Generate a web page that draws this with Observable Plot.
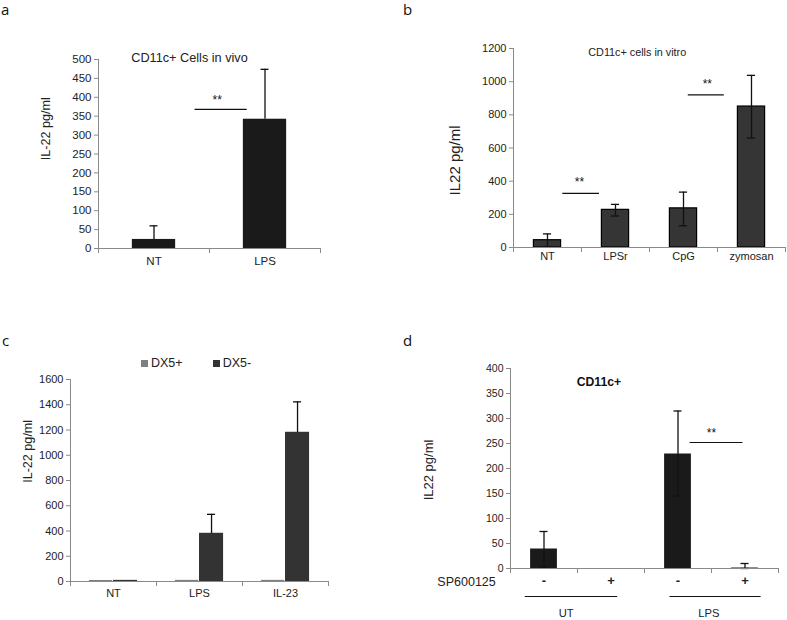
<!DOCTYPE html>
<html><head><meta charset="utf-8">
<script src="https://cdn.jsdelivr.net/npm/d3@7"></script>
<script src="https://cdn.jsdelivr.net/npm/@observablehq/plot@0.6"></script>
<style>
body{margin:0;background:#fff;}
#fig{position:relative;width:787px;height:620px;background:#fff;font-family:"Liberation Sans",Arial,sans-serif;overflow:hidden;}
.panel{position:absolute;}
.letter{position:absolute;font-family:"Open Sans","DejaVu Sans",sans-serif;font-size:15px;color:#111;line-height:1;}
.legend{position:absolute;font-size:12.5px;color:#222;line-height:1;display:flex;align-items:center;}
.legend i{display:inline-block;width:7px;height:7px;margin-right:3px;}
</style></head><body><div id="fig"></div>
<script>
// ---------- Panel a ----------
const aCategories = ["NT", "LPS"];
const aMean = [24, 342];
const aErrHigh = [60, 474];
const aYTicks = [0, 50, 100, 150, 200, 250, 300, 350, 400, 450, 500];
const aTitle = "CD11c+ Cells in vivo";
const aYLabel = "IL-22 pg/ml";
const aSigX1 = [0.87], aSigX2 = [1.34], aSigY = [368], aStarX = [1.07], aStarY = [393];

// ---------- Panel b ----------
const bCategories = ["NT", "LPSr", "CpG", "zymosan"];
const bMean = [44, 227, 236, 850];
const bErrLow = [4, 190, 131, 660];
const bErrHigh = [82, 260, 334, 1038];
const bYTicks = [0, 200, 400, 600, 800, 1000, 1200];
const bTitle = "CD11c+ cells in vitro";
const bYLabel = "IL22 pg/ml";
const bSigX1 = [0.725, 2.57], bSigX2 = [1.265, 3.10], bSigY = [326, 920], bStarX = [0.97, 2.85], bStarY = [395, 982];

// ---------- Panel c ----------
const cCategories = ["NT", "LPS", "IL-23"];
const cSeries = ["DX5+", "DX5-"];
const cPlus = [4, 5, 5];
const cMinus = [5, 378, 1178];
const cMinusErrHigh = [5, 532, 1423];
const cYTicks = [0, 200, 400, 600, 800, 1000, 1200, 1400, 1600];
const cYLabel = "IL-22 pg/ml";

// ---------- Panel d ----------
const dTreatment = ["-", "+", "-", "+"];
const dGroups = ["UT", "LPS"];
const dMean = [39, 0, 229, 1];
const dErrLow = [3, 0, 145, 0];
const dErrHigh = [74, 0, 315, 10];
const dYTicks = [0, 50, 100, 150, 200, 250, 300, 350, 400];
const dTitle = "CD11c+";
const dYLabel = "IL22 pg/ml";
const dRowLabel = "SP600125";
const dGroupX1 = [0.22, 2.38], dGroupX2 = [1.6, 3.74], dGroupLabelX = [0.83, 2.96];
const dSigX1 = [2.68], dSigX2 = [3.47], dSigY = [252], dStarX = [3.0], dStarY = [270];

// ---------- helpers ----------
const AXIS = "#8a8a8a", INK = "#222";
const FONT = "'Liberation Sans', Arial, sans-serif";

function catAxes(n, yTicks, yMax, labels, o) {
  const bounds = d3.range(n + 1), centers = d3.range(n).map(i => i + 0.5);
  return [
    Plot.ruleX([0], {y1: 0, y2: yMax, stroke: AXIS}),
    Plot.ruleY([0], {x1: 0, x2: n, stroke: AXIS}),
    Plot.axisY({ticks: yTicks, tickSize: 4, tickFormat: () => "", stroke: AXIS, label: null}),
    Plot.axisY({ticks: yTicks, tickSize: 0, tickPadding: 7, tickFormat: d => String(d), fill: INK, stroke: "none", fontSize: o.yFont, label: null}),
    Plot.axisX({ticks: bounds, tickSize: 5, tickFormat: () => "", stroke: AXIS, label: null}),
    Plot.axisX({ticks: centers, tickSize: 0, tickPadding: o.xPad, tickFormat: d => labels[Math.floor(d)], fill: INK, stroke: "none", fontSize: o.xFont, fontWeight: o.xWeight || "normal", label: null})
  ];
}
function errorBars(rows, capHalf, both) {
  const r = rows.filter(d => d.hi > d.lo);
  const m = [
    Plot.ruleX(r, {x: "x", y1: "lo", y2: "hi", stroke: "#111", strokeWidth: 1.3}),
    Plot.ruleY(r, {y: "hi", x1: d => d.x - capHalf, x2: d => d.x + capHalf, stroke: "#111", strokeWidth: 1.3})
  ];
  if (both) m.push(Plot.ruleY(r, {y: "lo", x1: d => d.x - capHalf, x2: d => d.x + capHalf, stroke: "#111", strokeWidth: 1.3}));
  return m;
}
function sigMarks(x1, x2, y, sx, sy) {
  const rows = x1.map((v, i) => ({x1: v, x2: x2[i], y: y[i], sx: sx[i], sy: sy[i]}));
  return [
    Plot.ruleY(rows, {y: "y", x1: "x1", x2: "x2", stroke: "#111", strokeWidth: 1.2}),
    Plot.text(rows, {x: "sx", y: "sy", text: () => "**", fontSize: 12, fill: "#111"})
  ];
}
function yLabel(text, y, dx, size) {
  return Plot.text([{t: text, y}], {y: "y", text: "t", frameAnchor: "left", textAnchor: "middle", dx, rotate: -90, fontSize: size, fill: INK});
}
function place(svg, left, top) {
  svg.classList.add("panel");
  svg.style.left = left + "px";
  svg.style.top = top + "px";
  document.getElementById("fig").appendChild(svg);
}
const baseStyle = {fontFamily: FONT, fontSize: "11px", background: "transparent", color: INK, overflow: "visible"};

// ---------- Panel a ----------
{
  const hw = 0.195;
  const rows = aCategories.map((c, i) => ({x: i + 0.5, x1: i + 0.5 - hw, x2: i + 0.5 + hw, v: aMean[i], lo: aMean[i], hi: aErrHigh[i]}));
  const p = Plot.plot({
    width: 400, height: 290, marginLeft: 98, marginRight: 80, marginTop: 59, marginBottom: 42,
    x: {domain: [0, 2]}, y: {domain: [0, 500]}, style: baseStyle,
    marks: [
      Plot.rectY(rows, {x1: "x1", x2: "x2", y: "v", fill: "#1a1a1a"}),
      ...errorBars(rows, 0.036, false),
      ...catAxes(2, aYTicks, 500, aCategories, {yFont: 11.5, xFont: 11.5, xPad: 8}),
      ...sigMarks(aSigX1, aSigX2, aSigY, aStarX, aStarY),
      Plot.text([aTitle], {x: 0.82, y: 505, text: d => d, fontSize: 12.7, fill: INK}),
      yLabel(aYLabel, 317, -53, 12.6)
    ]
  });
  place(p, 0, 0);
}

// ---------- Panel b ----------
{
  const hw = 0.2;
  const rows = bCategories.map((c, i) => ({x: i + 0.5, x1: i + 0.5 - hw, x2: i + 0.5 + hw, v: bMean[i], lo: bErrLow[i], hi: bErrHigh[i]}));
  const p = Plot.plot({
    width: 387, height: 290, marginLeft: 113, marginRight: 2, marginTop: 48, marginBottom: 43,
    x: {domain: [0, 4]}, y: {domain: [0, 1200]}, style: baseStyle,
    marks: [
      Plot.rectY(rows, {x1: "x1", x2: "x2", y: "v", fill: "#353535", stroke: "#000", strokeWidth: 1.2}),
      ...errorBars(rows, 0.06, true),
      ...catAxes(4, bYTicks, 1200, bCategories, {yFont: 11, xFont: 11, xPad: 5}),
      ...sigMarks(bSigX1, bSigX2, bSigY, bStarX, bStarY),
      Plot.text([bTitle], {x: 1.82, y: 1176, text: d => d, fontSize: 10.8, fill: INK}),
      yLabel(bYLabel, 525, -58, 15)
    ]
  });
  place(p, 400, 0);
}

// ---------- Panel c ----------
{
  const rows = [];
  cCategories.forEach((c, i) => {
    rows.push({s: cSeries[0], x1: i + 0.22, x2: i + 0.49, v: cPlus[i]});
    rows.push({s: cSeries[1], x1: i + 0.5, x2: i + 0.78, v: cMinus[i]});
  });
  const err = cCategories.map((c, i) => ({x: i + 0.64, lo: cMinus[i], hi: cMinusErrHigh[i]}));
  const p = Plot.plot({
    width: 400, height: 320, marginLeft: 70, marginRight: 72, marginTop: 79, marginBottom: 39,
    x: {domain: [0, 3]}, y: {domain: [0, 1600]},
    color: {domain: cSeries, range: ["#7f7f7f", "#333333"]},
    style: baseStyle,
    marks: [
      Plot.rectY(rows, {x1: "x1", x2: "x2", y: "v", fill: "s", insetTop: -0.5}),
      ...errorBars(err, 0.047, false),
      ...catAxes(3, cYTicks, 1600, cCategories, {yFont: 11, xFont: 11, xPad: 8}),
      yLabel(cYLabel, 1031, -43, 12.6)
    ]
  });
  place(p, 0, 300);
  const colors = ["#7f7f7f", "#333333"], lx = [141, 212.7];
  cSeries.forEach((s, i) => {
    const el = document.createElement("div");
    el.className = "legend";
    el.style.left = lx[i] + "px";
    el.style.top = "357px";
    el.innerHTML = `<i style="background:${colors[i]}"></i>${s}`;
    document.getElementById("fig").appendChild(el);
  });
}

// ---------- Panel d ----------
{
  const hw = 0.2;
  const rows = dTreatment.map((c, i) => ({x: i + 0.5, x1: i + 0.5 - hw, x2: i + 0.5 + hw, v: dMean[i], lo: dErrLow[i], hi: dErrHigh[i]}));
  const groups = dGroups.map((g, i) => ({g, x1: dGroupX1[i], x2: dGroupX2[i], lx: dGroupLabelX[i]}));
  const p = Plot.plot({
    width: 387, height: 320, marginLeft: 110, marginRight: 9, marginTop: 68, marginBottom: 52,
    x: {domain: [0, 4]}, y: {domain: [0, 400]}, style: baseStyle,
    marks: [
      Plot.rectY(rows, {x1: "x1", x2: "x2", y: "v", fill: "#1a1a1a"}),
      ...errorBars(rows, 0.06, true),
      ...catAxes(4, dYTicks, 400, dTreatment, {yFont: 10.5, xFont: 13, xPad: 7, xWeight: "bold"}),
      ...sigMarks(dSigX1, dSigX2, dSigY, dStarX, dStarY),
      Plot.text([dTitle], {x: 1.32, y: 373, text: d => d, fontSize: 12.2, fontWeight: "bold", fill: "#111"}),
      Plot.text([dRowLabel], {x: -0.22, y: 0, dy: 13.4, text: d => d, textAnchor: "end", fontSize: 12.5, fill: INK}),
      Plot.ruleY(groups, {y: 0, x1: "x1", x2: "x2", dy: 28, stroke: "#111", strokeWidth: 1.2}),
      Plot.text(groups, {x: "lx", y: 0, dy: 45, text: "g", fontSize: 11.2, fill: INK}),
      yLabel(dYLabel, 197, -82, 13)
    ]
  });
  place(p, 400, 300);
}

// ---------- panel letters ----------
[["a", 1, 2], ["b", 403, 2], ["c", 2, 333], ["d", 403, 333]].forEach(([t, x, y]) => {
  const el = document.createElement("div");
  el.className = "letter";
  el.style.left = x + "px"; el.style.top = y + "px";
  el.textContent = t;
  document.getElementById("fig").appendChild(el);
});
</script></body></html>
